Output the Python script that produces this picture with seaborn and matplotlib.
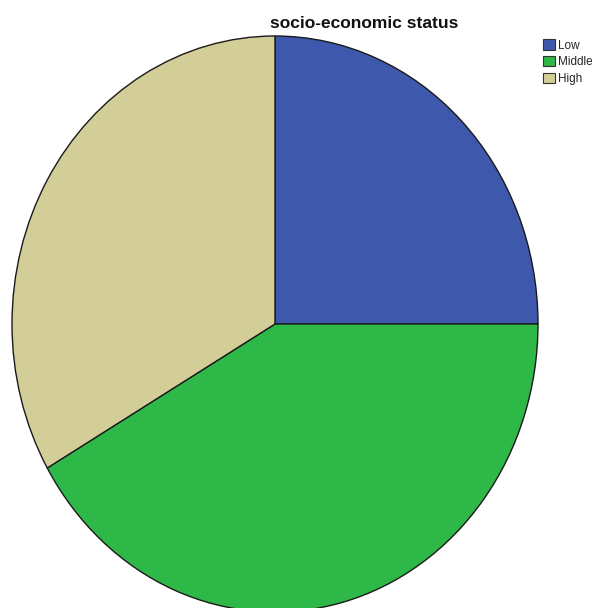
import matplotlib
matplotlib.use("Agg")
import matplotlib.pyplot as plt
import seaborn as sns
import pandas as pd

# dados (contagens por categoria)
categories = ["Low", "Middle", "High"]
counts = [30, 50, 40]
colors = ["#3E58AC", "#2EB848", "#D3CE97"]
title = "socio-economic status"

sns.set_theme(style="white")
plt.rcParams["font.family"] = ["Liberation Sans", "DejaVu Sans"]

df = pd.DataFrame({"ses": categories, "n": counts})

fig = plt.figure(figsize=(5.92, 6.08), dpi=100)
W, H = 592, 608
# area do pie (elipse levemente esticada na vertical, como no original)
cx, cy, rx, ry = 275, 324, 263, 288
ax = fig.add_axes([(cx - rx) / W, (H - cy - ry) / H, 2 * rx / W, 2 * ry / H])

wedges, _ = ax.pie(
    df["n"],
    colors=colors,
    startangle=90,
    counterclock=False,
    wedgeprops={"edgecolor": "#1a1a1a", "linewidth": 1.0},
)
ax.set_aspect("auto")
ax.set_xlim(-1, 1)
ax.set_ylim(-1, 1)
ax.axis("off")

fig.text(364 / W, 1 - 23 / H, title, ha="center", va="center",
         fontsize=12.5, fontweight="bold", color="#111111")

leg = fig.legend(
    wedges, df["ses"],
    loc="upper left",
    bbox_to_anchor=(541 / W, 1 - 37 / H),
    frameon=False,
    fontsize=8.5,
    handlelength=0.95,
    handleheight=0.95,
    handletextpad=0.25,
    labelspacing=0.4,
    borderpad=0.2,
    borderaxespad=0,
)
for h in leg.legend_handles:
    h.set_edgecolor("#333333")
    h.set_linewidth(0.8)

fig.savefig("out.png", dpi=100)
